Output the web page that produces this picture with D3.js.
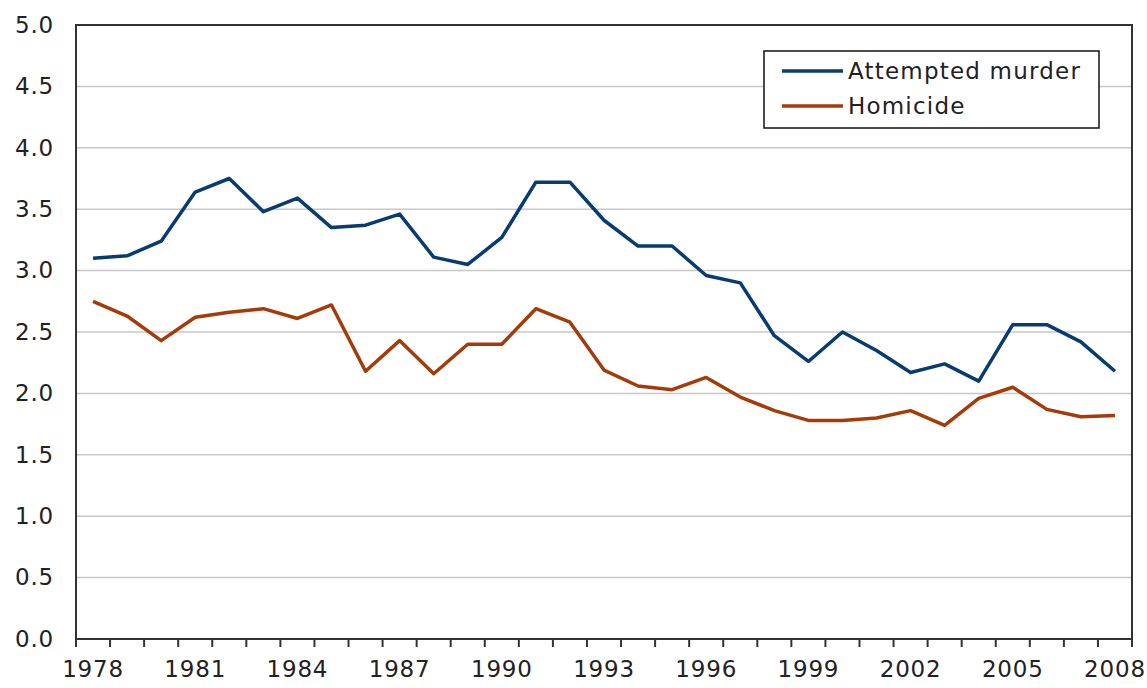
<!DOCTYPE html>
<html>
<head>
<meta charset="utf-8">
<script src="https://cdn.jsdelivr.net/npm/d3@7"></script>
<style>
  html, body { margin: 0; padding: 0; background: #fff; }
  svg text { font-family: "DejaVu Sans", Verdana, sans-serif; fill: #222; }
</style>
</head>
<body>
<svg id="chart" width="1147" height="688"></svg>
<script>
const years = d3.range(1978, 2009).map(String);
const yearLabels = ["1978", "1981", "1984", "1987", "1990", "1993", "1996", "1999", "2002", "2005", "2008"];
const yTicks = [0, 0.5, 1.0, 1.5, 2.0, 2.5, 3.0, 3.5, 4.0, 4.5, 5.0];

const attemptedMurder = [3.10, 3.12, 3.24, 3.64, 3.75, 3.48, 3.59, 3.35, 3.37, 3.46,
  3.11, 3.05, 3.27, 3.72, 3.72, 3.41, 3.20, 3.20, 2.96, 2.90,
  2.47, 2.26, 2.50, 2.35, 2.17, 2.24, 2.10, 2.56, 2.56, 2.42, 2.18];
const homicide = [2.75, 2.63, 2.43, 2.62, 2.66, 2.69, 2.61, 2.72, 2.18, 2.43,
  2.16, 2.40, 2.40, 2.69, 2.58, 2.19, 2.06, 2.03, 2.13, 1.97,
  1.86, 1.78, 1.78, 1.80, 1.86, 1.74, 1.96, 2.05, 1.87, 1.81, 1.82];

const seriesNames = ["Attempted murder", "Homicide"];
const seriesColors = ["#083c70", "#a33c0a"];

const svg = d3.select("#chart");
const margin = { top: 25, right: 15, bottom: 49, left: 76 };
const width = 1147 - margin.left - margin.right;
const height = 688 - margin.top - margin.bottom;

const g = svg.append("g").attr("transform", `translate(${margin.left},${margin.top})`);

const x = d3.scaleBand().domain(years).range([0, width]).padding(0);
const y = d3.scaleLinear().domain([0, 5]).range([height, 0]);

// gridlines
g.append("g")
  .selectAll("line")
  .data(yTicks.filter(d => d > 0 && d < 5))
  .join("line")
  .attr("x1", 0).attr("x2", width)
  .attr("y1", d => y(d)).attr("y2", d => y(d))
  .attr("stroke", "#c8c8c8").attr("stroke-width", 1.5);

// y labels
const yAxis = g.append("g")
  .call(d3.axisLeft(y).tickValues(yTicks).tickFormat(d3.format(".1f")).tickSize(0).tickPadding(22));
yAxis.select(".domain").remove();
yAxis.selectAll("text").attr("font-size", 23).attr("letter-spacing", 0.8).attr("fill", "#222");

// x labels
const xAxis = g.append("g")
  .attr("transform", `translate(0,${height})`)
  .call(d3.axisBottom(x).tickValues(yearLabels).tickSize(0).tickPadding(22));
xAxis.select(".domain").remove();
xAxis.selectAll("text").attr("font-size", 23).attr("letter-spacing", 0.8).attr("fill", "#222");

// x tick marks at category boundaries
g.append("g")
  .selectAll("line")
  .data(d3.range(years.length + 1))
  .join("line")
  .attr("x1", i => i * x.step()).attr("x2", i => i * x.step())
  .attr("y1", height).attr("y2", height + 8)
  .attr("stroke", "#333").attr("stroke-width", 2);

// plot border
g.append("rect")
  .attr("x", 0).attr("y", 0).attr("width", width).attr("height", height)
  .attr("fill", "none").attr("stroke", "#333").attr("stroke-width", 2);

const line = d3.line()
  .x((d, i) => x(years[i]) + x.bandwidth() / 2)
  .y(d => y(d));

[attemptedMurder, homicide].forEach((vals, k) => {
  g.append("path")
    .datum(vals)
    .attr("d", line)
    .attr("fill", "none")
    .attr("stroke", seriesColors[k])
    .attr("stroke-width", 3.5)
    .attr("stroke-linejoin", "round");
});

// legend
const legend = svg.append("g").attr("transform", "translate(764,51)");
legend.append("rect")
  .attr("width", 335).attr("height", 77)
  .attr("fill", "#fff").attr("stroke", "#111").attr("stroke-width", 1.5);
seriesNames.forEach((name, k) => {
  const ly = 20 + k * 35;
  legend.append("line")
    .attr("x1", 18).attr("x2", 79)
    .attr("y1", ly).attr("y2", ly)
    .attr("stroke", seriesColors[k]).attr("stroke-width", 3.5);
  legend.append("text")
    .attr("x", 84).attr("y", ly)
    .attr("dy", "0.35em")
    .attr("font-size", 23)
    .attr("letter-spacing", 1.2)
    .text(name);
});
</script>
</body>
</html>
